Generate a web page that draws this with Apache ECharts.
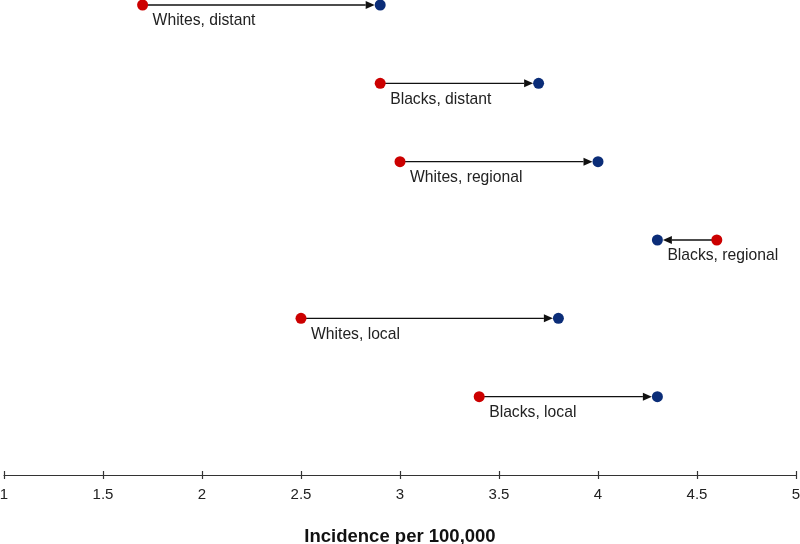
<!DOCTYPE html>
<html><head><meta charset="utf-8">
<script src="https://cdn.jsdelivr.net/npm/echarts@6/dist/echarts.min.js"></script>
<style>html,body{margin:0;padding:0;background:#fff}#c{width:800px;height:544px}</style>
</head><body><div id="c"></div>
<script>
const categories = ["Blacks, local","Whites, local","Blacks, regional","Whites, regional","Blacks, distant","Whites, distant"];
const rowPos = [1,2,3,4,5,6];
const fromValues = [3.4,2.5,4.6,3.0,2.9,1.7];
const toValues = [4.3,3.8,4.3,4.0,3.7,2.9];
const xTicks = [1,1.5,2,2.5,3,3.5,4,4.5,5];

const chart = echarts.init(document.getElementById('c'));
const arrowData = categories.map((c,i)=>[fromValues[i], toValues[i], rowPos[i], c]);
const R = 5.5;
chart.setOption({
  animation:false,
  grid:{left:4,right:4,top:5,bottom:69,containLabel:false,outerBoundsMode:'none'},
  xAxis:[{
    type:'value',min:1,max:5,interval:0.5,
    axisLine:{show:true,lineStyle:{color:'#333',width:1.2}},
    axisTick:{show:true,length:4,lineStyle:{color:'#333',width:1.2}},
    axisLabel:{color:'#222',fontSize:15,fontFamily:'Liberation Sans, Arial',margin:12,
      formatter:v=>String(v)},
    splitLine:{show:false},
    name:'Incidence per 100,000',nameLocation:'middle',nameGap:52,
    nameTextStyle:{fontSize:18.5,fontWeight:'bold',color:'#111',fontFamily:'Liberation Sans, Arial'}
  },{
    type:'value',min:1,max:5,interval:0.5,position:'bottom',
    axisLine:{show:false},
    axisTick:{show:true,inside:true,length:4,lineStyle:{color:'#333',width:1.2}},
    axisLabel:{show:false},splitLine:{show:false}
  }],
  yAxis:{type:'value',min:0,max:6,show:false},
  series:[{
    type:'custom',
    data:arrowData,
    encode:{x:[0,1],y:2},
    renderItem:function(params,api){
      const a = api.coord([api.value(0),api.value(2)]);
      const b = api.coord([api.value(1),api.value(2)]);
      const dir = b[0]>a[0]?1:-1;
      const tipX = b[0]-dir*R;
      const headLen = 9, headW = 4;
      const baseX = tipX-dir*headLen;
      const label = categories[params.dataIndex];
      const leftX = Math.min(a[0],b[0]);
      return {type:'group',children:[
        {type:'line',shape:{x1:a[0],y1:a[1],x2:baseX,y2:b[1]},style:{stroke:'#111',lineWidth:1.4}},
        {type:'polygon',shape:{points:[[tipX,b[1]],[baseX,b[1]-headW],[baseX,b[1]+headW]]},style:{fill:'#111'}},
        {type:'text',x:leftX+10,y:a[1]+16,style:{text:label,fill:'#222',fontSize:15.7,fontFamily:'Liberation Sans, Arial',verticalAlign:'middle',align:'left'}}
      ]};
    },
    z:1
  },{
    type:'scatter',data:fromValues.map((v,i)=>[v,rowPos[i]]),
    symbolSize:11,itemStyle:{color:'#cc0000',opacity:1},z:3
  },{
    type:'scatter',data:toValues.map((v,i)=>[v,rowPos[i]]),
    symbolSize:11,itemStyle:{color:'#0b2d78',opacity:1},z:3
  }]
});
</script></body></html>
